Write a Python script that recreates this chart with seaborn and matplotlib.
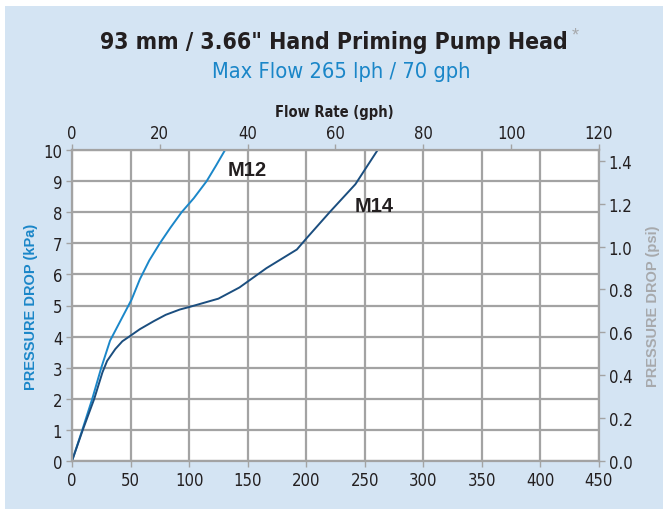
import matplotlib
matplotlib.use("Agg")
import matplotlib.pyplot as plt
import matplotlib.patches as patches
from matplotlib import font_manager as fm
import seaborn as sns
import pandas as pd

# curves: flow (lph) vs pressure drop (kPa)
m12_flow = [0, 8.8, 17.3, 25, 32.5, 51, 58, 66, 75, 84, 93.6, 104, 115, 123, 130.7]
m12_kpa = [0, 1.0, 2.0, 3.0, 3.87, 5.2, 5.85, 6.45, 7.0, 7.5, 8.0, 8.45, 9.0, 9.5, 10.0]
m14_flow = [0, 9.2, 19, 26, 30, 37, 43, 50, 58, 70, 80, 92, 100, 125, 143, 166,
            192, 200, 220, 242, 261]
m14_kpa = [0, 1.0, 2.0, 2.85, 3.22, 3.6, 3.85, 4.03, 4.24, 4.5, 4.7, 4.87, 4.95,
           5.22, 5.58, 6.2, 6.8, 7.15, 8.0, 8.9, 10.0]

x_ticks = [0, 50, 100, 150, 200, 250, 300, 350, 400, 450]
gph_ticks = [0, 20, 40, 60, 80, 100, 120]
kpa_ticks = [0, 1, 2, 3, 4, 5, 6, 7, 8, 9, 10]
psi_ticks = [0.0, 0.2, 0.4, 0.6, 0.8, 1.0, 1.2, 1.4]

df = pd.concat([
    pd.DataFrame({"flow": m12_flow, "kpa": m12_kpa, "model": "M12"}),
    pd.DataFrame({"flow": m14_flow, "kpa": m14_kpa, "model": "M14"}),
])

sns.set_style("white")
plt.rcParams["font.family"] = ["Liberation Sans", "DejaVu Sans"]


def narrow_font(bold):
    # look for an upright condensed face, fall back to Liberation Sans
    for f in fm.fontManager.ttflist:
        cond = ("Narrow" in f.name or "Condensed" in f.name
                or f.stretch in ("condensed", "semi-condensed"))
        isbold = f.weight in ("bold", 700, "heavy", 800)
        if (cond and isbold == bold and f.style == "normal"
                and "Mono" not in f.name and "Serif" not in f.name):
            return fm.FontProperties(fname=f.fname)
    return fm.FontProperties(family="Liberation Sans",
                             weight="bold" if bold else "normal")


nar_b = narrow_font(True)
nar_r = narrow_font(False)

bg = "#d4e4f3"
grid_c = "#a3a3a3"
txt_c = "#231f20"

fig = plt.figure(figsize=(6.63, 5.10), dpi=100, facecolor="white")
fig.patches.append(patches.Rectangle((5 / 663, 0), 658 / 663, 503 / 510,
                                     transform=fig.transFigure, facecolor=bg,
                                     edgecolor="none", zorder=-10))

ax = fig.add_axes([72 / 663, 48 / 510, 527 / 663, 311 / 510])
ax.set_facecolor("white")

sns.lineplot(data=df, x="flow", y="kpa", hue="model",
             palette={"M12": "#1b87c9", "M14": "#1b4e7f"},
             linewidth=1.4, legend=False, ax=ax, sort=False, estimator=None)

ax.set_xlim(0, 450)
ax.set_ylim(0, 10)
ax.set_xticks(x_ticks)
ax.set_yticks(kpa_ticks)
ax.grid(True, color=grid_c, linewidth=1.6)
ax.set_axisbelow(True)
for s in ax.spines.values():
    s.set_color(grid_c)
    s.set_linewidth(1.6)
ax.tick_params(axis="both", direction="out", length=4, width=1, color=grid_c,
               labelsize=12, labelcolor=txt_c, pad=3)
ax.set_xlabel("")
ax.set_ylabel("PRESSURE DROP (kPa)", color="#1a86c8", fontsize=10.5,
              fontweight="bold", labelpad=4)

# top axis in gph
ax_top = ax.twiny()
ax_top.set_xlim(0, 120)
ax_top.set_xticks(gph_ticks)
ax_top.tick_params(axis="x", direction="out", length=4, width=1, color=grid_c,
                   labelsize=12, labelcolor=txt_c, pad=2)
for s in ax_top.spines.values():
    s.set_visible(False)

# right axis in psi
ax_r = ax.twinx()
ax_r.set_ylim(0, 10 * 0.145038)
ax_r.set_yticks(psi_ticks)
ax_r.set_yticklabels([f"{v:.1f}" for v in psi_ticks])
ax_r.tick_params(axis="y", direction="out", length=4, width=1, color=grid_c,
                 labelsize=12, labelcolor=txt_c, pad=3)
ax_r.set_ylabel("PRESSURE DROP (psi)", color="#a7a9ac", fontsize=10.5,
                fontweight="bold", labelpad=10)
for s in ax_r.spines.values():
    s.set_visible(False)

for a in (ax, ax_top, ax_r):
    for lab in a.get_xticklabels() + a.get_yticklabels():
        lab.set_fontproperties(nar_r)
        lab.set_fontsize(12)

ax.text(133, 9.36, "M12", fontsize=14.5, fontweight="bold", color=txt_c,
        va="center", ha="left")
ax.text(241, 8.23, "M14", fontsize=14.5, fontweight="bold", color=txt_c,
        va="center", ha="left")

title = fig.text(334 / 663, 1 - 42 / 510, "93 mm / 3.66\" Hand Priming Pump Head",
                 fontproperties=nar_b, fontsize=21, color=txt_c,
                 ha="center", va="center")
fig.text(575 / 663, 1 - 36 / 510, "*", fontsize=13, color="#a7a9ac",
         ha="center", va="center")
sub = fig.text(341 / 663, 1 - 72 / 510, "Max Flow 265 lph / 70 gph",
               fontproperties=nar_r, fontsize=17, color="#1a86c8",
               ha="center", va="center")
fig.text(334 / 663, 1 - 113 / 510, "Flow Rate (gph)",
         fontproperties=nar_b, fontsize=10.5, color=txt_c,
         ha="center", va="center")

# fit the headings to their width in the reference
fig.canvas.draw()
r = fig.canvas.get_renderer()
for t, w in [(title, 466), (sub, 258)]:
    cur = t.get_window_extent(r).width
    t.set_fontsize(t.get_fontsize() * w / cur)

fig.savefig("out.png", dpi=100, facecolor=fig.get_facecolor())
